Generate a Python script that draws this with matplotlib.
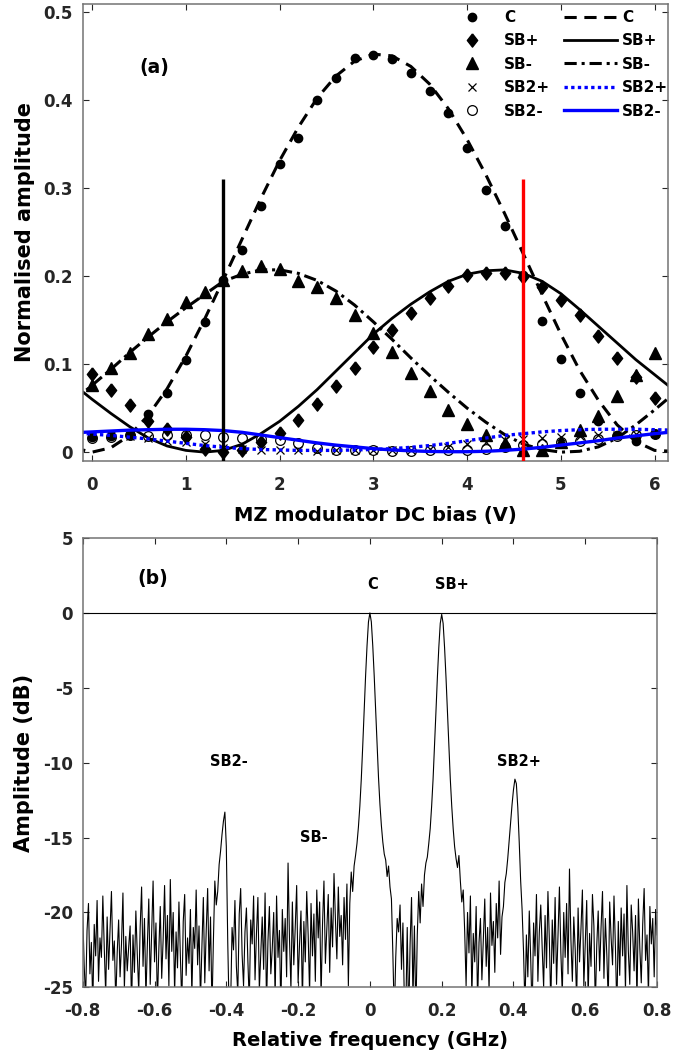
import numpy as np
import matplotlib
matplotlib.use('Agg')
from matplotlib import pyplot as plt

# ---- (a) measured sideband amplitudes vs MZ bias ----
bias_v = [0.0, 0.2, 0.4, 0.6, 0.8, 1.0, 1.2, 1.4, 1.6, 1.8, 2.0, 2.2, 2.4, 2.6, 2.8, 3.0,
          3.2, 3.4, 3.6, 3.8, 4.0, 4.2, 4.4, 4.6, 4.8, 5.0, 5.2, 5.4, 5.6, 5.8, 6.0]
c_meas = [0.017, 0.018, 0.020, 0.043, 0.067, 0.105, 0.148, 0.195, 0.230, 0.279, 0.327, 0.357,
          0.400, 0.425, 0.448, 0.451, 0.446, 0.430, 0.410, 0.385, 0.345, 0.298, 0.257, 0.201,
          0.149, 0.106, 0.067, 0.035, 0.019, 0.013, 0.021]
sbp_meas = [0.089, 0.071, 0.053, 0.035, 0.026, 0.017, 0.004, 0.000, 0.003, 0.012, 0.022, 0.037,
            0.055, 0.075, 0.095, 0.119, 0.139, 0.158, 0.175, 0.189, 0.201, 0.203, 0.204, 0.199,
            0.188, 0.173, 0.156, 0.132, 0.107, 0.085, 0.062]
sbm_meas = [0.076, 0.095, 0.113, 0.134, 0.151, 0.170, 0.182, 0.196, 0.206, 0.211, 0.208, 0.194,
            0.188, 0.175, 0.156, 0.135, 0.114, 0.090, 0.069, 0.048, 0.032, 0.019, 0.010, 0.003,
            0.002, 0.012, 0.025, 0.041, 0.064, 0.088, 0.113]
sb2p_meas = [0.018, 0.019, 0.018, 0.016, 0.013, 0.012, 0.009, 0.005, 0.004, 0.003, 0.002, 0.002,
             0.001, 0.002, 0.002, 0.002, 0.003, 0.003, 0.004, 0.006, 0.009, 0.012, 0.014, 0.015,
             0.016, 0.017, 0.018, 0.019, 0.020, 0.021, 0.022]
sb2m_meas = [0.016, 0.017, 0.020, 0.018, 0.019, 0.020, 0.019, 0.017, 0.016, 0.015, 0.014, 0.010,
             0.005, 0.003, 0.002, 0.002, 0.001, 0.001, 0.002, 0.002, 0.003, 0.004, 0.006, 0.008,
             0.009, 0.011, 0.013, 0.015, 0.018, 0.020, 0.021]

# fitted curves
fit_v = [-0.2, 0.0, 0.2, 0.4, 0.6, 0.8, 1.0, 1.2, 1.4, 1.6, 1.8, 2.0, 2.2, 2.4, 2.6, 2.8, 3.0,
         3.2, 3.4, 3.6, 3.8, 4.0, 4.2, 4.4, 4.6, 4.8, 5.0, 5.2, 5.4, 5.6, 5.8, 6.0, 6.2]
c_fit = [0.005, 0.000, 0.005, 0.019, 0.042, 0.072, 0.109, 0.151, 0.196, 0.242, 0.288, 0.331,
         0.369, 0.402, 0.427, 0.444, 0.452, 0.450, 0.438, 0.418, 0.390, 0.355, 0.315, 0.271,
         0.225, 0.179, 0.134, 0.093, 0.059, 0.031, 0.012, 0.002, 0.001]
sbp_fit = [0.077, 0.060, 0.044, 0.029, 0.016, 0.007, 0.002, 0.000, 0.002, 0.009, 0.021, 0.035,
           0.052, 0.071, 0.092, 0.113, 0.134, 0.152, 0.168, 0.182, 0.194, 0.202, 0.206, 0.207,
           0.203, 0.194, 0.180, 0.162, 0.143, 0.124, 0.105, 0.088, 0.071]
sbm_fit = [0.058, 0.076, 0.094, 0.113, 0.131, 0.148, 0.164, 0.179, 0.194, 0.202, 0.207, 0.207,
           0.203, 0.195, 0.183, 0.167, 0.148, 0.128, 0.107, 0.087, 0.068, 0.050, 0.034, 0.020,
           0.009, 0.003, 0.000, 0.001, 0.006, 0.016, 0.031, 0.048, 0.066]
sb2p_fit = [0.022, 0.0205, 0.019, 0.017, 0.015, 0.0125, 0.010, 0.0075, 0.0055, 0.004, 0.003,
            0.0025, 0.002, 0.002, 0.002, 0.0025, 0.003, 0.004, 0.0055, 0.0075, 0.010, 0.013,
            0.016, 0.019, 0.021, 0.023, 0.0245, 0.0255, 0.026, 0.026, 0.026, 0.0255, 0.025]
sb2m_fit = [0.022, 0.023, 0.024, 0.025, 0.0255, 0.026, 0.026, 0.0255, 0.0245, 0.0225, 0.0195,
            0.0165, 0.0135, 0.0105, 0.008, 0.006, 0.004, 0.0025, 0.0015, 0.0008, 0.0005, 0.0005,
            0.001, 0.002, 0.0035, 0.0055, 0.008, 0.0105, 0.013, 0.016, 0.0185, 0.021, 0.023]

bias_marks = [1.4, 4.6]
bias_mark_colors = ['black', 'red']
bias_mark_top = 0.31

# ---- (b) optical spectrum, 0.004 GHz steps from -0.8 to 0.8 GHz ----
spec_db = [
    -20.1, -23.5, -25.8, -21.2, -19.4, -24.1, -22.0, -26.3, -20.8, -22.9, -19.2, -24.6, -21.7, -23.0, -18.9, -22.4, -25.5, -20.3, -23.8, -21.1,
    -18.6, -23.2, -21.9, -26.0, -22.7, -20.5, -24.3, -22.1, -18.7, -25.1, -21.6, -23.9, -22.3, -20.9, -26.4, -21.5, -24.0, -19.9, -22.8, -25.3,
    -21.0, -18.3, -23.6, -20.4, -25.7, -22.2, -19.1, -24.8, -21.4, -17.9, -23.3, -20.7, -26.1, -22.5, -19.6, -24.4, -21.8, -18.2, -23.1, -20.2,
    -24.9, -17.8, -22.6, -20.0, -25.4, -21.3, -23.7, -19.3, -22.9, -26.2, -20.6, -18.8, -24.2, -21.7, -23.4, -19.8, -25.6, -21.0, -22.4, -18.5,
    -23.5, -20.9, -25.9, -22.3, -19.0, -24.7, -21.2, -18.4, -23.9, -20.3, -26.5, -21.9, -17.9, -19.5, -18.6, -16.8, -15.9, -14.8, -13.9, -13.3,
    -15.6, -22.0, -26.8, -26.2, -21.0, -22.5, -19.2, -23.6, -25.4, -20.1, -18.4, -22.8, -24.9, -21.3, -19.7, -23.2, -26.0, -20.5, -22.1, -18.9,
    -24.5, -21.4, -19.0, -25.2, -22.7, -20.3, -23.8, -18.7, -26.3, -21.9, -19.6, -24.1, -22.4, -20.0, -25.8, -18.9, -23.0, -21.2, -26.7, -19.8,
    -22.6, -20.4, -24.3, -16.7, -21.8, -25.1, -19.3, -23.5, -21.0, -18.2, -24.7, -22.1, -19.9, -26.0, -20.6, -23.3, -18.6, -21.5, -25.4, -19.4,
    -22.9, -20.1, -24.6, -18.5, -21.7, -19.3, -25.7, -20.8, -17.9, -23.4, -21.1, -18.8, -24.0, -19.7, -22.3, -17.4, -20.5, -23.1, -18.3, -21.6,
    -20.2, -23.5, -19.0, -21.8, -18.1, -24.9, -19.4, -17.3, -18.6, -16.9, -16.2, -15.4, -14.3, -12.9, -11.1, -8.9, -6.5, -4.2, -2.2, -0.6,
    0.0, -0.6, -2.2, -4.2, -6.5, -8.9, -11.0, -12.8, -14.2, -15.3, -16.1, -16.5, -17.6, -16.9, -18.3, -19.1, -22.8, -27.0, -23.0, -20.4,
    -21.3, -19.5, -23.8, -20.7, -25.9, -26.8, -21.0, -27.2, -22.1, -19.0, -25.8, -20.9, -26.9, -21.5, -18.6, -20.7, -18.1, -19.6, -17.5, -16.7,
    -16.3, -15.4, -14.4, -12.9, -11.1, -8.9, -6.6, -4.3, -2.3, -0.7, -0.1, -0.7, -2.3, -4.3, -6.6, -9.0, -11.1, -12.9, -14.4, -15.6,
    -16.4, -17.0, -16.2, -17.9, -19.3, -18.5, -21.2, -24.9, -20.0, -22.7, -18.9, -25.6, -21.4, -23.3, -19.6, -26.1, -22.0, -20.4, -24.5, -21.8,
    -19.1, -23.6, -21.0, -25.3, -18.7, -22.2, -20.6, -24.0, -19.4, -21.7, -17.9, -22.8, -20.3, -19.6, -18.0, -17.4, -16.4, -15.2, -14.0, -12.8,
    -11.8, -11.1, -11.4, -13.0, -15.3, -17.9, -19.8, -22.6, -26.4, -21.5, -24.3, -19.9, -23.1, -26.8, -20.7, -22.9, -18.8, -24.6, -21.3, -19.5,
    -22.4, -25.0, -20.2, -23.7, -18.6, -21.9, -26.2, -20.5, -23.4, -19.0, -24.8, -21.6, -18.3, -22.7, -25.5, -20.0, -23.0, -19.4, -24.1, -17.1,
    -21.8, -24.6, -20.3, -22.5, -26.0, -19.7, -23.3, -21.1, -18.5, -24.9, -22.0, -19.2, -25.7, -21.4, -23.6, -18.8, -20.9, -26.3, -22.2, -19.9,
    -23.9, -21.0, -18.6, -24.4, -20.4, -22.8, -25.9, -19.3, -21.7, -23.5, -18.9, -22.3, -26.6, -20.6, -24.2, -19.7, -22.9, -20.1, -25.3, -18.2,
    -22.6, -24.8, -19.5, -21.3, -23.9, -20.2, -26.1, -19.1, -22.4, -24.7, -20.8, -18.4, -23.2, -21.5, -25.6, -19.6, -22.1, -20.4, -24.3, -19.8,
    -21.5,
]
spec_f = np.linspace(-0.8, 0.8, len(spec_db))

peak_labels = ['C', 'SB+', 'SB2-', 'SB2+', 'SB-']
peak_label_f = [0.007, 0.228, -0.392, 0.414, -0.155]
peak_label_db = [1.9, 1.9, -9.9, -9.9, -15.0]

top_xticks = [0, 1, 2, 3, 4, 5, 6]
top_yticks = [0, 0.1, 0.2, 0.3, 0.4, 0.5]
top_yticklabels = ['0', '0.1', '0.2', '0.3', '0.4', '0.5']
bot_xticks = [-0.8, -0.6, -0.4, -0.2, 0, 0.2, 0.4, 0.6, 0.8]
bot_xticklabels = ['-0.8', '-0.6', '-0.4', '-0.2', '0', '0.2', '0.4', '0.6', '0.8']
bot_yticks = [-25, -20, -15, -10, -5, 0, 5]
bot_yticklabels = ['-25', '-20', '-15', '-10', '-5', '0', '5']

plt.rcParams['font.family'] = ['DejaVu Sans']
plt.rcParams['font.weight'] = 'bold'
plt.rcParams['axes.labelweight'] = 'bold'
plt.rcParams['axes.unicode_minus'] = False

# MATLAB style diamond (a bit taller than wide)
diamond = [(0, 1), (0.78, 0), (0, -1), (-0.78, 0), (0, 1)]

fig = plt.figure(figsize=(6.97, 10.57), dpi=100)
ax1 = fig.add_axes([0.1187, 0.5639, 0.8393, 0.4324])
ax2 = fig.add_axes([0.1187, 0.0659, 0.824, 0.4251])

ms_kw = dict(linestyle='none', color='black')
h_c = ax1.plot(bias_v, c_meas, marker='o', ms=6, label='C', **ms_kw)[0]
h_sbp = ax1.plot(bias_v, sbp_meas, marker=diamond, ms=9.5, label='SB+', **ms_kw)[0]
h_sbm = ax1.plot(bias_v, sbm_meas, marker='^', ms=8, label='SB-', **ms_kw)[0]
h_sb2p = ax1.plot(bias_v, sb2p_meas, marker='x', ms=6, mew=0.9, label='SB2+', **ms_kw)[0]
h_sb2m = ax1.plot(bias_v, sb2m_meas, marker='o', ms=7, mfc='none', mew=0.9, label='SB2-', **ms_kw)[0]

f_c = ax1.plot(fit_v, c_fit, color='black', lw=2.2, dashes=(4, 2.5), label='C')[0]
f_sbp = ax1.plot(fit_v, sbp_fit, color='black', lw=2.0, label='SB+')[0]
f_sbm = ax1.plot(fit_v, sbm_fit, color='black', lw=2.2, dashes=(4, 1.6, 1, 1.6), label='SB-')[0]
f_sb2p = ax1.plot(fit_v, sb2p_fit, color='blue', lw=2.4, dashes=(1, 1), label='SB2+')[0]
f_sb2m = ax1.plot(fit_v, sb2m_fit, color='blue', lw=2.4, label='SB2-')[0]

ax1.vlines(bias_marks, -0.01, bias_mark_top, colors=bias_mark_colors, lw=2.4, zorder=5)

ax1.set_xlim(-0.1, 6.14)
ax1.set_ylim(-0.01, 0.509)
ax1.set_xticks(top_xticks)
ax1.set_yticks(top_yticks)
ax1.set_yticklabels(top_yticklabels)
ax1.set_xlabel('MZ modulator DC bias (V)', fontsize=14)
ax1.set_ylabel('Normalised amplitude', fontsize=15)
ax1.text(0.66, 0.437, '(a)', fontsize=13.5, ha='center', va='center')

leg = ax1.legend(handles=[h_c, h_sbp, h_sbm, h_sb2p, h_sb2m, f_c, f_sbp, f_sbm, f_sb2p, f_sb2m],
                 ncol=2, frameon=False, fontsize=11, handlelength=3.45, handletextpad=0.35,
                 columnspacing=0.9, labelspacing=0.55, borderpad=0, borderaxespad=0,
                 loc='upper left', bbox_to_anchor=(446 / 697, 1 - 10 / 1057),
                 bbox_transform=fig.transFigure)

# (b)
ax2.plot(spec_f, spec_db, color='black', lw=0.8)
ax2.axhline(0, color='black', lw=0.8)
for lab, fx, fy in zip(peak_labels, peak_label_f, peak_label_db):
    ax2.text(fx, fy, lab, fontsize=10.5, ha='center', va='center')
ax2.text(-0.605, 2.3, '(b)', fontsize=13.5, ha='center', va='center')
ax2.set_xlim(-0.8, 0.8)
ax2.set_ylim(-25, 5)
ax2.set_xticks(bot_xticks)
ax2.set_xticklabels(bot_xticklabels)
ax2.set_yticks(bot_yticks)
ax2.set_yticklabels(bot_yticklabels)
ax2.set_xlabel('Relative frequency (GHz)', fontsize=14)
ax2.set_ylabel('Amplitude (dB)', fontsize=15)

for ax in (ax1, ax2):
    ax.tick_params(direction='in', length=4, width=0.8, top=True, right=True,
                   labelsize=12, colors='#262626')
    ax.tick_params(axis='x', pad=10.5)
    ax.tick_params(axis='y', pad=7)
    for sp in ax.spines.values():
        sp.set_color('0.45')
        sp.set_linewidth(1.1)
ax1.yaxis.set_label_coords(-0.082, 0.5)
ax1.xaxis.set_label_coords(0.5, -0.098)
ax2.yaxis.set_label_coords(-0.084, 0.5)
ax2.xaxis.set_label_coords(0.5, -0.097)

fig.savefig('out.png', dpi=100)
